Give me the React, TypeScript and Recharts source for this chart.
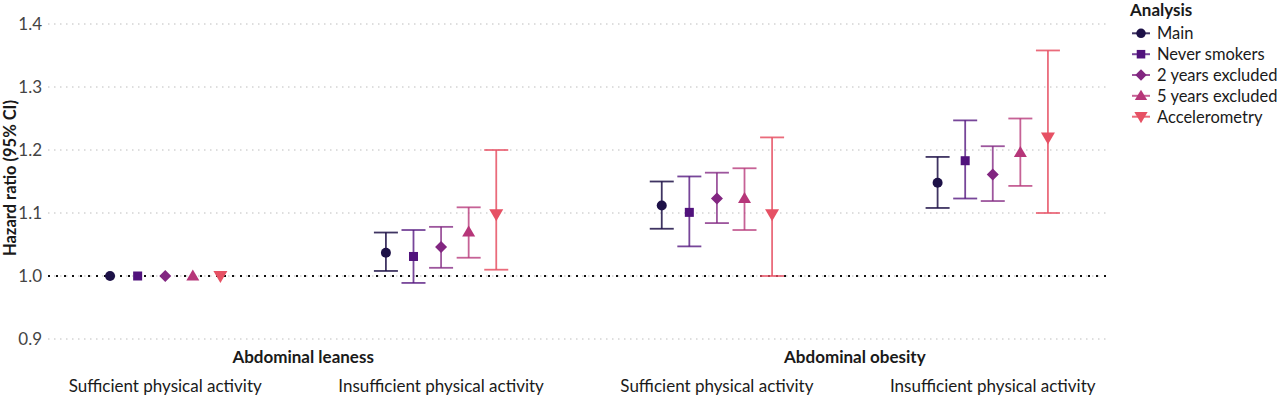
import React from 'react';
import { ScatterChart, Scatter, XAxis, YAxis, CartesianGrid, ErrorBar, ReferenceLine } from 'recharts';

// ---- data ----
const categories = [
  'Sufficient physical activity',
  'Insufficient physical activity',
  'Sufficient physical activity',
  'Insufficient physical activity',
];
const categoryPositions = [0, 1, 2, 3];
const groupLabels = ['Abdominal leaness', 'Abdominal obesity'];
const groupPositions = [0.5, 2.5];
const seriesNames = ['Main', 'Never smokers', '2 years excluded', '5 years excluded', 'Accelerometry'];
const seriesOffsets = [-0.2, -0.1, 0, 0.1, 0.2];
const yTicks = [0.9, 1.0, 1.1, 1.2, 1.3, 1.4];

const mainHR = [1.0, 1.037, 1.112, 1.148];
const mainLo = [null, 1.008, 1.075, 1.108];
const mainHi = [null, 1.069, 1.150, 1.189];

const neverHR = [1.0, 1.031, 1.101, 1.183];
const neverLo = [null, 0.989, 1.047, 1.123];
const neverHi = [null, 1.073, 1.158, 1.247];

const twoYrHR = [1.0, 1.046, 1.123, 1.161];
const twoYrLo = [null, 1.013, 1.084, 1.119];
const twoYrHi = [null, 1.078, 1.164, 1.206];

const fiveYrHR = [1.0, 1.070, 1.123, 1.196];
const fiveYrLo = [null, 1.029, 1.073, 1.143];
const fiveYrHi = [null, 1.109, 1.171, 1.250];

const accelHR = [1.0, 1.098, 1.098, 1.220];
const accelLo = [null, 1.010, 1.000, 1.100];
const accelHi = [null, 1.200, 1.220, 1.358];

// ---- styles ----
const seriesColors = ['#1D1147', '#51127C', '#822681', '#B63679', '#E65164'];
const errorColors = [
  'rgba(29,17,71,0.85)',
  'rgba(81,18,124,0.78)',
  'rgba(130,38,129,0.78)',
  'rgba(182,54,121,0.78)',
  'rgba(230,81,100,0.85)',
];
const markerKinds = ['circle', 'square', 'diamond', 'triangle', 'triangleDown'];
const FONT = 'Lato, "Noto Sans", sans-serif';

const seriesInputs = [
  { hr: mainHR, lo: mainLo, hi: mainHi },
  { hr: neverHR, lo: neverLo, hi: neverHi },
  { hr: twoYrHR, lo: twoYrLo, hi: twoYrHi },
  { hr: fiveYrHR, lo: fiveYrLo, hi: fiveYrHi },
  { hr: accelHR, lo: accelLo, hi: accelHi },
];

const seriesData = seriesInputs.map((s, si) =>
  s.hr.map((v, ci) => ({
    x: categoryPositions[ci] + seriesOffsets[si],
    y: v,
    err: s.lo[ci] == null || s.hi[ci] == null ? null : [v - (s.lo[ci] as number), (s.hi[ci] as number) - v],
  }))
);

function Marker({ kind, cx, cy, color, scale = 1 }: { kind: string; cx: number; cy: number; color: string; scale?: number }) {
  if (cx == null || cy == null) return null;
  const k = scale;
  switch (kind) {
    case 'circle':
      return <circle cx={cx} cy={cy} r={5 * k} fill={color} />;
    case 'square':
      return <rect x={cx - 4.5 * k} y={cy - 4.5 * k} width={9 * k} height={9 * k} fill={color} />;
    case 'diamond':
      return <polygon points={`${cx},${cy - 6 * k} ${cx + 6 * k},${cy} ${cx},${cy + 6 * k} ${cx - 6 * k},${cy}`} fill={color} />;
    case 'triangle':
      return <polygon points={`${cx},${cy - 6.5 * k} ${cx + 6.5 * k},${cy + 4.5 * k} ${cx - 6.5 * k},${cy + 4.5 * k}`} fill={color} />;
    default:
      return <polygon points={`${cx - 7 * k},${cy - 5 * k} ${cx + 7 * k},${cy - 5 * k} ${cx},${cy + 7 * k}`} fill={color} />;
  }
}

function YLabel() {
  return (
    <text
      x={16}
      y={178}
      transform="rotate(-90 16 178)"
      textAnchor="middle"
      fontFamily={FONT}
      fontWeight={700}
      fontSize={16.5}
      fill="#1a1a1a"
    >
      Hazard ratio (95% CI)
    </text>
  );
}

function LegendBox() {
  const rowY = [33.3, 54.2, 75, 95.8, 116.7];
  return (
    <svg width={160} height={130} style={{ position: 'absolute', left: 1119, top: 0 }}>
      <text x={11} y={16} fontFamily={FONT} fontWeight={700} fontSize={17} fill="#1a1a1a">Analysis</text>
      {seriesNames.map((n, i) => (
        <g key={n}>
          <line x1={13} x2={31} y1={rowY[i]} y2={rowY[i]} stroke={errorColors[i]} strokeWidth={2} />
          <Marker kind={markerKinds[i]} cx={22} cy={rowY[i]} color={seriesColors[i]} scale={0.95} />
          <text x={38} y={rowY[i] + 6} fontFamily={FONT} fontSize={16.5} fill="#1a1a1a">{n}</text>
        </g>
      ))}
    </svg>
  );
}

export default function App() {
  return (
    <div style={{ position: 'absolute', left: 0, top: 0, width: 1280, height: 398, background: '#fff' }}>
      <ScatterChart width={1280} height={398} margin={{ top: 24, right: 170, bottom: 0, left: 0 }}>
        <CartesianGrid horizontal vertical={false} stroke="#bdbdbd" strokeDasharray="1.5 4.5" />
        <YAxis
          type="number"
          dataKey="y"
          domain={[0.9, 1.4]}
          ticks={yTicks}
          width={48}
          axisLine={false}
          tickLine={false}
          tickSize={4}
          tickMargin={2}
          tick={{ fontFamily: FONT, fontSize: 17, fill: '#444' }}
          tickFormatter={(v: number) => v.toFixed(1)}
          label={<YLabel />}
        />
        <XAxis
          xAxisId="a_grp"
          type="number"
          dataKey="x"
          domain={[-0.425, 3.425]}
          ticks={groupPositions}
          tickFormatter={(v: number) => groupLabels[groupPositions.indexOf(v)] ?? ''}
          axisLine={false}
          tickLine={false}
          tickSize={9}
          tickMargin={3}
          height={30}
          interval={0}
          allowDataOverflow
          tick={{ fontFamily: FONT, fontSize: 17, fontWeight: 700, fill: '#1a1a1a' }}
        />
        <XAxis
          xAxisId="b_cat"
          type="number"
          dataKey="x"
          domain={[-0.425, 3.425]}
          ticks={categoryPositions}
          tickFormatter={(v: number) => categories[categoryPositions.indexOf(v)] ?? ''}
          axisLine={false}
          tickLine={false}
          tickSize={8}
          tickMargin={3}
          height={29}
          interval={0}
          allowDataOverflow
          tick={{ fontFamily: FONT, fontSize: 17, fill: '#1a1a1a' }}
        />
        <ReferenceLine xAxisId="b_cat" y={1.0} stroke="#111" strokeWidth={2} strokeDasharray="2 6" />
        {seriesData.map((d, si) => (
          <Scatter
            key={seriesNames[si]}
            name={seriesNames[si]}
            data={d}
            xAxisId="b_cat"
            dataKey="y"
            isAnimationActive={false}
            fill={seriesColors[si]}
            shape={(p: any) => <Marker kind={markerKinds[si]} cx={p.cx} cy={p.cy} color={seriesColors[si]} />}
          >
            <ErrorBar dataKey="err" direction="y" width={12} stroke={errorColors[si]} strokeWidth={1.8} />
          </Scatter>
        ))}
      </ScatterChart>
      <LegendBox />
    </div>
  );
}
